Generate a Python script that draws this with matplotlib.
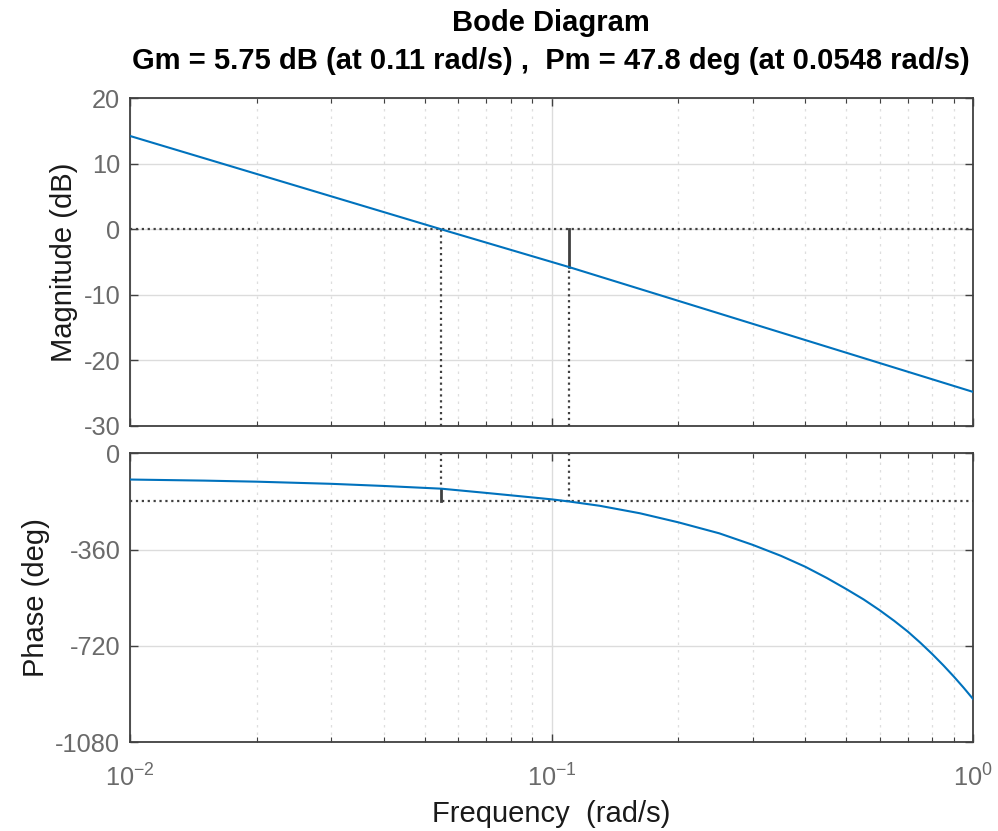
import matplotlib.pyplot as plt
import numpy as np

# values
mag_freq = [0.01, 0.0548, 0.11, 1.0]
mag_db = [14.25, 0.0, -5.75, -24.8]

phase_freq = [0.01, 0.015, 0.02, 0.03, 0.04, 0.0548, 0.07, 0.085, 0.1, 0.11,
              0.13, 0.162, 0.2, 0.25, 0.3, 0.35, 0.4, 0.45, 0.5, 0.55, 0.6,
              0.65, 0.7, 0.75, 0.8, 0.85, 0.9, 0.95, 1.0]
phase_deg = [-98, -102, -106, -114, -122, -132.2, -148, -161, -172, -180,
             -196, -224, -258, -299, -342, -383, -424, -466, -507, -546, -586,
             -626, -666, -708, -750, -792, -834, -876, -918]

gm_db, gm_freq = 5.75, 0.11
pm_deg, pm_freq = 47.8, 0.0548

mag_ticks = [20, 10, 0, -10, -20, -30]
phase_ticks = [0, -360, -720, -1080]

plt.rcParams['font.family'] = ['Liberation Sans', 'DejaVu Sans']
plt.rcParams['mathtext.fontset'] = 'custom'
plt.rcParams['mathtext.rm'] = 'Liberation Sans'
plt.rcParams['mathtext.it'] = 'Liberation Sans'
plt.rcParams['axes.unicode_minus'] = False

blue = '#0072BD'
mk = '#404040'
tick_col = '#6a6a6a'

fig = plt.figure(figsize=(9.98, 8.31), dpi=100)
ax1 = fig.add_axes([0.1303, 0.4874, 0.975 - 0.1303, 0.8817 - 0.4874])
ax2 = fig.add_axes([0.1303, 0.1067, 0.975 - 0.1303, 0.4545 - 0.1067])

for ax in (ax1, ax2):
    ax.set_xscale('log')
    ax.set_xlim(0.01, 1)
    ax.grid(True, which='major', color='#dcdcdc', lw=1.0, ls='-')
    ax.grid(True, which='minor', color='#dedede', lw=0.9, ls=(0, (2, 4)))
    ax.tick_params(which='both', direction='in', top=True, right=True,
                   labelsize=18.3, labelcolor=tick_col, color='#404040')
    ax.tick_params(which='major', length=6, width=1)
    ax.tick_params(which='minor', length=3.5, width=0.8)
    ax.tick_params(axis='y', pad=7)
    for s in ax.spines.values():
        s.set_color('#404040')
        s.set_linewidth(1.3)
    ax.set_axisbelow(True)

# magnitude
ax1.plot(mag_freq, mag_db, color=blue, lw=1.5, zorder=3)
ax1.set_ylim(-30, 20)
ax1.set_yticks(mag_ticks)
ax1.tick_params(axis='x', which='both', labelbottom=False)
ax1.axhline(0, color=mk, ls=':', lw=1.6, zorder=2)
ax1.plot([pm_freq, pm_freq], [-30, 0], color=mk, ls=':', lw=1.6, zorder=2)
ax1.plot([gm_freq, gm_freq], [-30, -gm_db], color=mk, ls=':', lw=1.6, zorder=2)
ax1.plot([gm_freq, gm_freq], [0, -gm_db], color=mk, ls='-', lw=2.0, zorder=2)
ax1.set_ylabel('Magnitude (dB)', fontsize=21, color='#1a1a1a')

# phase
ax2.plot(phase_freq, phase_deg, color=blue, lw=1.5, zorder=3)
ax2.set_ylim(-1080, 0)
ax2.set_yticks(phase_ticks)
ax2.axhline(-180, color=mk, ls=':', lw=1.6, zorder=2)
ax2.plot([gm_freq, gm_freq], [0, -180], color=mk, ls=':', lw=1.6, zorder=2)
ax2.plot([pm_freq, pm_freq], [0, -180 + pm_deg], color=mk, ls=':', lw=1.6, zorder=2)
ax2.plot([pm_freq, pm_freq], [-180 + pm_deg, -180], color=mk, ls='-', lw=2.0, zorder=2)
ax2.set_ylabel('Phase (deg)', fontsize=21, color='#1a1a1a')
ax2.set_xlabel('Frequency  (rad/s)', fontsize=21, color='#1a1a1a', labelpad=6)
ax2.tick_params(axis='x', pad=16)

fig.text(0.5515, 0.972, 'Bode Diagram', ha='center', va='center',
         fontsize=21, fontweight='bold')
fig.text(0.5515, 0.926,
         'Gm = 5.75 dB (at 0.11 rad/s) ,  Pm = 47.8 deg (at 0.0548 rad/s)',
         ha='center', va='center', fontsize=21, fontweight='bold')

fig.savefig('out.png', dpi=100)
